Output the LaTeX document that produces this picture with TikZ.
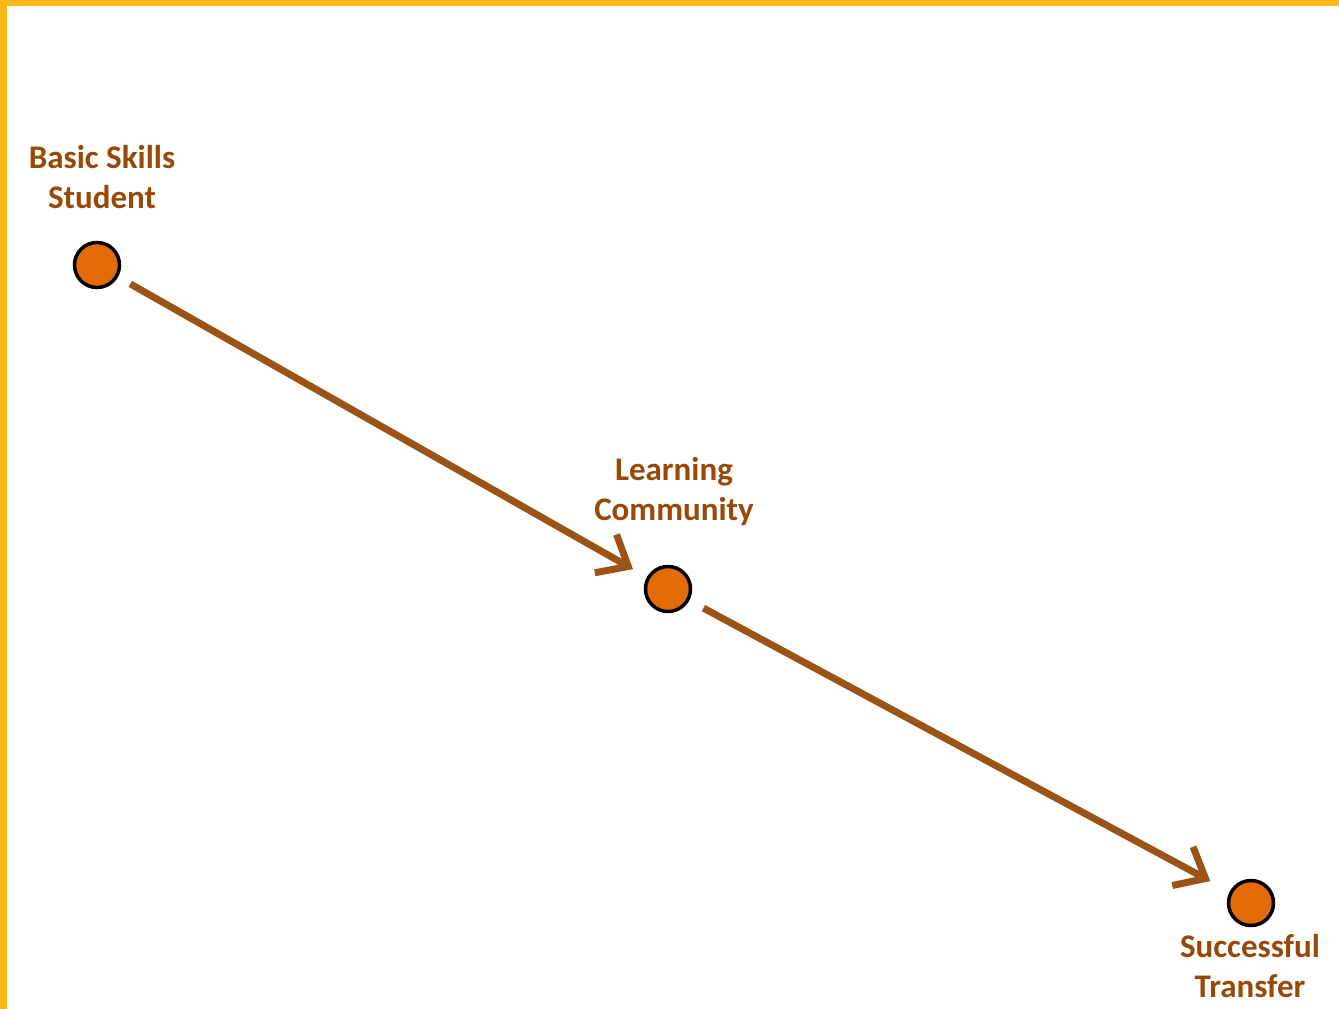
\documentclass[tikz,border=0pt]{standalone}
\usepackage{fontspec}
\setmainfont{Carlito}
\usetikzlibrary{arrows.meta}
\definecolor{gold}{HTML}{FFB914}
\definecolor{txtbrown}{HTML}{984807}
\definecolor{arrbrown}{HTML}{9C5316}
\definecolor{dotorange}{HTML}{E36C09}
\tikzset{
  dot/.style={circle,draw=black,line width=3.5pt,fill=dotorange,minimum size=45pt,inner sep=0pt},
  lbl/.style={text=txtbrown,align=center,font=\fontsize{33}{40}\selectfont\bfseries,inner sep=0pt},
  conn/.style={draw=arrbrown,line width=7pt,-{Straight Barb[length=26pt,width=44pt]}}
}
\begin{document}
\begin{tikzpicture}[x=1pt,y=-1pt]
\useasboundingbox (0,0) rectangle (1339,1009);
\fill[white] (0,0) rectangle (1339,1009);
\fill[gold] (0,0) rectangle (1339,6);
\fill[gold] (0,0) rectangle (7,1009);
\node[dot] (a) at (97,265) {};
\node[dot] (b) at (668,589) {};
\node[dot] (c) at (1251,903) {};
\node[lbl] (la) at (102,177) {Basic Skills\\Student};
\node[lbl] (lb) at (674,492) {Learning\\Community};
\node[lbl] (lc) at (1250,966) {Successful\\Transfer};
\draw[conn,shorten <=14pt,shorten >=16pt] (a) -- (b);
\draw[conn,shorten <=16pt,shorten >=22pt] (b) -- (c);
\end{tikzpicture}
\end{document}
